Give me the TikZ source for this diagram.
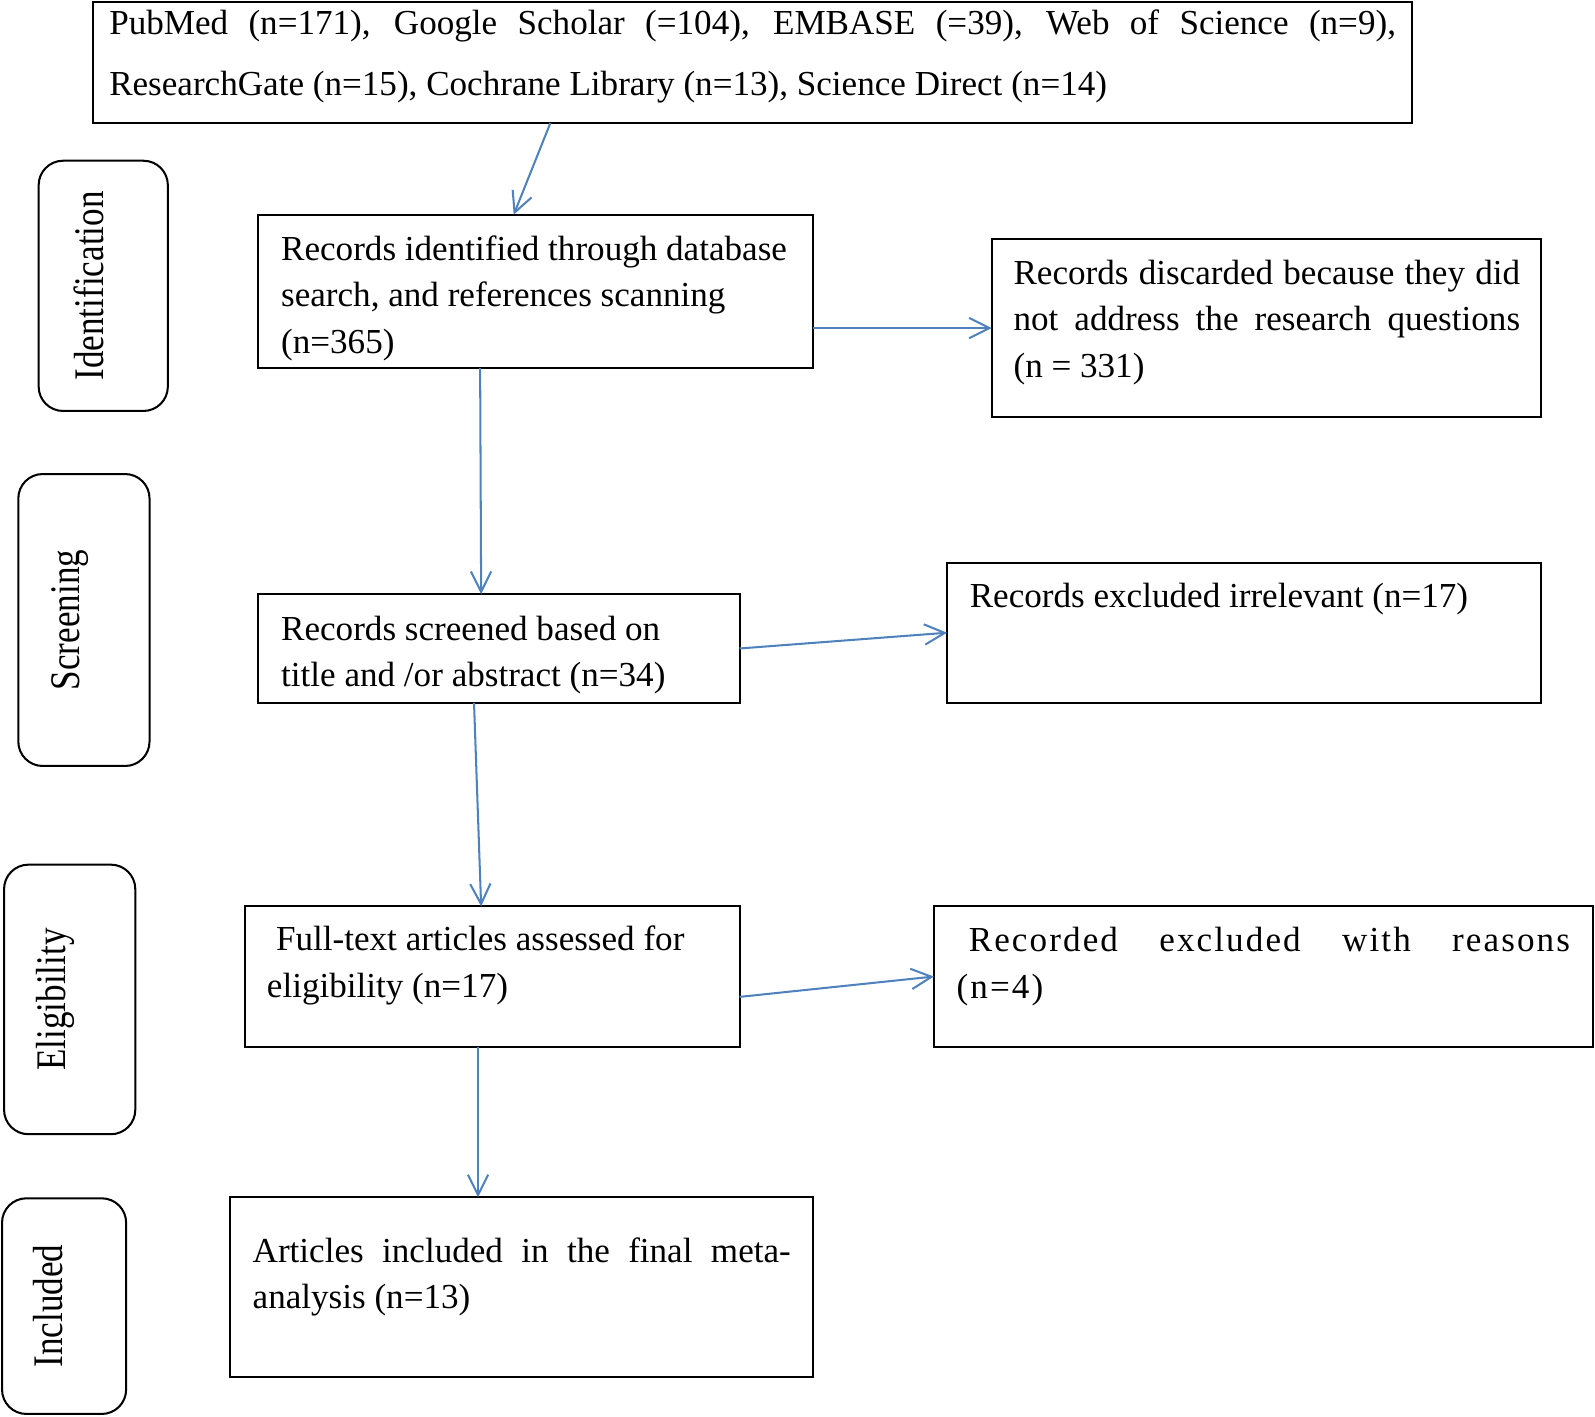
\documentclass[tikz,border=0pt]{standalone}
\usepackage{fontspec}
\setmainfont{Liberation Serif}
\usepackage{graphicx}
\usetikzlibrary{arrows.meta,calc,positioning}
\definecolor{c1}{RGB}{79,129,189}
\newcommand{\bodyfont}{\fontsize{17.25pt}{23pt}\selectfont}
\newcommand{\srcfont}{\fontsize{17.25pt}{30pt}\selectfont}
\tikzset{
  box/.style={draw, line width=1pt, inner sep=0pt, outer sep=0pt, anchor=north west},
  phase/.style={draw, line width=1pt, rounded corners=12pt, inner sep=0pt, outer sep=0pt, anchor=north west},
  txt/.style={inner sep=0pt, font=\bodyfont, align=left},
  jtxt/.style={inner sep=0pt, font=\bodyfont, align=justify},
  phasetxt/.style={inner sep=0pt, rotate=90, font=\bodyfont},
  edge/.style={-{Straight Barb[length=10pt,width=10pt]}, line width=1pt, c1}
}

\begin{document}
\begin{tikzpicture}[x=0.5pt, y=-0.5pt]
    \useasboundingbox (0,0) rectangle (1568,1393);

    % Sources
    \node[box, minimum width=648.5pt, minimum height=59.5pt] (top) at (91,2) {};
    \node[jtxt, font=\srcfont, text width=632.5pt, below right=3.5pt and 8pt of top.north west]
        {PubMed (n=171), Google Scholar (=104), EMBASE (=39), Web of Science (n=9),\linebreak ResearchGate (n=15), Cochrane Library (n=13), Science Direct (n=14)};

    % Phase labels
    \node[phase, minimum width=63.5pt, minimum height=123pt] (idlab) at (38,158) {};
    \node[phasetxt] at ($(idlab.center)+(-14,0)$) {\scalebox{1}[1.2]{Identification}};
    \node[phase, minimum width=64.5pt, minimum height=143.5pt] (scrlab) at (18,466) {};
    \node[phasetxt] at ($(scrlab.center)+(-14,0)$) {\scalebox{1}[1.2]{Screening}};
    \node[phase, minimum width=64.5pt, minimum height=132.5pt] (elilab) at (4,850) {};
    \node[phasetxt] at ($(elilab.center)+(-14,0)$) {\scalebox{1}[1.2]{Eligibility}};
    \node[phase, minimum width=61pt, minimum height=106pt] (inclab) at (2,1178) {};
    \node[phasetxt] at ($(inclab.center)+(-16,0)$) {\scalebox{1}[1.2]{Included}};

    % Identification
    \node[box, minimum width=272.5pt, minimum height=75.5pt] (ident) at (254,211) {};
    \node[txt, below right=10pt and 11pt of ident.north west]
        {Records identified through database\\ search, and references scanning\\ (n=365)};
    \node[box, minimum width=270pt, minimum height=87.5pt] (discard) at (975,235) {};
    \node[jtxt, text width=249pt, below right=10pt and 10.5pt of discard.north west]
        {Records discarded because they did\linebreak not address the research questions\linebreak (n = 331)};

    % Screening
    \node[box, minimum width=236.5pt, minimum height=53.5pt] (screen) at (254,584) {};
    \node[txt, below right=10.5pt and 11pt of screen.north west]
        {Records screened based on\\ title and /or abstract (n=34)};
    \node[box, minimum width=292pt, minimum height=69pt] (excl) at (931,553) {};
    \node[txt, below right=10pt and 11pt of excl.north west]
        {Records excluded irrelevant (n=17)};

    % Eligibility
    \node[box, minimum width=243pt, minimum height=69pt] (full) at (241,891) {};
    \node[txt, below right=9.5pt and 10.5pt of full.north west]
        {\hspace*{4.5pt}Full-text articles assessed for\\ eligibility (n=17)};
    \node[box, minimum width=324pt, minimum height=69pt] (rec) at (918,891) {};
    \node[jtxt, text width=301.5pt, below right=10pt and 11pt of rec.north west]
        {\addfontfeature{LetterSpace=6}\hspace*{6pt}Recorded excluded with reasons\linebreak (n=4)};

    % Included
    \node[box, minimum width=286.5pt, minimum height=88.5pt] (art) at (226,1177) {};
    \node[jtxt, text width=264.5pt, below right=19.5pt and 11pt of art.north west]
        {Articles included in the final meta-\linebreak analysis (n=13)};

    % Connectors
    \draw[edge] ($(top.south west)+(450,0)$) -- ($(ident.north west)+(251,0)$);
    \draw[edge] ($(ident.south west)+(218,0)$) -- ($(screen.north west)+(219,0)$);
    \draw[edge] (ident.east |- discard.west) -- (discard.west);
    \draw[edge] (screen.east) -- (excl.west);
    \draw[edge] ($(screen.south west)+(212,0)$) -- ($(full.north west)+(232,0)$);
    \draw[edge] ($(full.east)+(0,20)$) -- (rec.west);
    \draw[edge] ($(full.south west)+(229,0)$) -- ($(art.north west)+(244,0)$);

\end{tikzpicture}
\end{document}
